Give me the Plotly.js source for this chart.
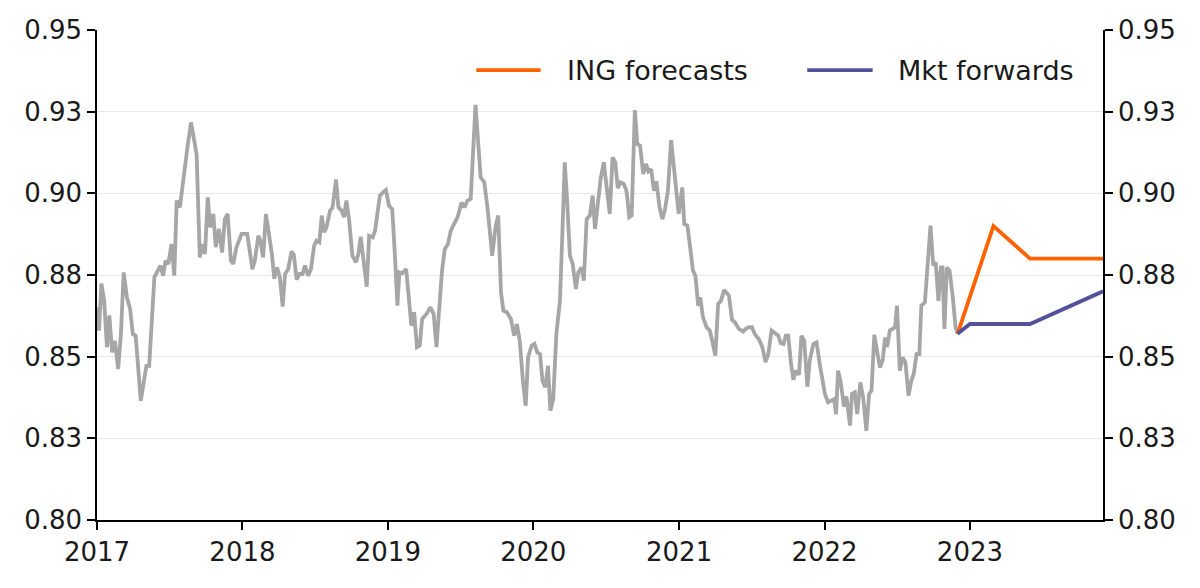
<!DOCTYPE html>
<html>
<head>
<meta charset="utf-8">
<script src="https://cdn.plot.ly/plotly-3.0.1.min.js"></script>
<style>
  html, body { margin: 0; padding: 0; background: #fff; }
  #chart { width: 1200px; height: 588px; }
</style>
</head>
<body>
<div id="chart"></div>
<script>
// EUR/GBP history (weekly-ish)
var histDates = [
    '2017-01-02','2017-01-06','2017-01-12','2017-01-19','2017-01-26','2017-02-01','2017-02-08','2017-02-15',
    '2017-02-23','2017-03-02','2017-03-09','2017-03-17','2017-03-25','2017-04-01','2017-04-08','2017-04-21',
    '2017-05-05','2017-05-12','2017-05-25','2017-06-09','2017-06-16','2017-06-22','2017-06-29','2017-07-07',
    '2017-07-14','2017-07-20','2017-07-28','2017-08-05','2017-08-16','2017-08-25','2017-09-08','2017-09-16',
    '2017-09-22','2017-09-29','2017-10-06','2017-10-12','2017-10-20','2017-10-26','2017-11-03','2017-11-11',
    '2017-11-18','2017-11-25','2017-12-03','2017-12-09','2017-12-17','2017-12-30',
    '2018-01-07','2018-01-13','2018-01-18','2018-01-26','2018-02-01','2018-02-10','2018-02-15','2018-02-22',
    '2018-03-01','2018-03-09','2018-03-16','2018-03-22','2018-03-29','2018-04-05','2018-04-12','2018-04-18',
    '2018-04-26','2018-05-04','2018-05-10','2018-05-17','2018-05-24','2018-06-01','2018-06-07','2018-06-15',
    '2018-06-22','2018-06-30','2018-07-06','2018-07-13','2018-07-19','2018-07-25','2018-07-31','2018-08-09',
    '2018-08-15','2018-08-24','2018-08-30','2018-09-07','2018-09-13','2018-09-19','2018-09-26','2018-10-04',
    '2018-10-13','2018-10-19','2018-10-25','2018-10-31','2018-11-09','2018-11-15','2018-11-24','2018-11-30',
    '2018-12-05','2018-12-12','2018-12-20','2018-12-27',
    '2019-01-04','2019-01-12','2019-01-19','2019-01-25','2019-01-30','2019-02-06','2019-02-16','2019-02-23',
    '2019-03-01','2019-03-08','2019-03-15','2019-03-22','2019-03-28','2019-04-08','2019-04-18','2019-04-26',
    '2019-05-03','2019-05-09','2019-05-17','2019-05-24','2019-06-01','2019-06-08','2019-06-18','2019-06-25',
    '2019-07-05','2019-07-12','2019-07-20','2019-07-28','2019-08-09','2019-08-22','2019-08-31','2019-09-08',
    '2019-09-20','2019-09-28','2019-10-05','2019-10-12','2019-10-18','2019-10-27','2019-11-06','2019-11-14',
    '2019-11-21','2019-11-28','2019-12-06','2019-12-13','2019-12-19','2019-12-28',
    '2020-01-04','2020-01-11','2020-01-18','2020-01-24','2020-01-31','2020-02-07','2020-02-13','2020-02-20',
    '2020-02-28','2020-03-08','2020-03-14','2020-03-20','2020-03-26','2020-04-02','2020-04-09','2020-04-17',
    '2020-04-23','2020-05-01','2020-05-07','2020-05-14','2020-05-22','2020-05-29','2020-06-04','2020-06-12',
    '2020-06-18','2020-06-26','2020-07-05','2020-07-11','2020-07-18','2020-07-25','2020-07-31','2020-08-07',
    '2020-08-15','2020-08-22','2020-08-29','2020-09-04','2020-09-12','2020-09-18','2020-09-25','2020-10-03',
    '2020-10-10','2020-10-16','2020-10-23','2020-10-30','2020-11-05','2020-11-13','2020-11-20','2020-11-26',
    '2020-12-04','2020-12-12','2020-12-19','2020-12-31',
    '2021-01-09','2021-01-14','2021-01-22','2021-01-28','2021-02-05','2021-02-11','2021-02-18','2021-02-23',
    '2021-03-02','2021-03-11','2021-03-19','2021-03-25','2021-04-02','2021-04-09','2021-04-16','2021-04-24',
    '2021-05-06','2021-05-14','2021-05-21','2021-05-31','2021-06-11','2021-06-17','2021-06-25','2021-07-03',
    '2021-07-10','2021-07-20','2021-07-29','2021-08-06','2021-08-13','2021-08-21','2021-08-29','2021-09-07',
    '2021-09-13','2021-09-20','2021-09-26','2021-10-02','2021-10-09','2021-10-15','2021-10-20','2021-10-29',
    '2021-11-04','2021-11-11','2021-11-19','2021-11-25','2021-12-04','2021-12-12','2021-12-20',
    '2022-01-02','2022-01-10','2022-01-19','2022-01-25','2022-01-30','2022-02-04','2022-02-10','2022-02-19',
    '2022-02-25','2022-03-06','2022-03-11','2022-03-18','2022-03-24','2022-04-01','2022-04-08','2022-04-16',
    '2022-04-23','2022-04-29','2022-05-06','2022-05-13','2022-05-20','2022-05-27','2022-06-02','2022-06-07',
    '2022-06-14','2022-06-21','2022-06-27','2022-07-02','2022-07-09','2022-07-16','2022-07-23','2022-07-31',
    '2022-08-07','2022-08-13','2022-08-20','2022-08-27','2022-09-01','2022-09-10','2022-09-16','2022-09-24',
    '2022-10-01','2022-10-07','2022-10-14','2022-10-20','2022-10-24','2022-10-29','2022-11-04','2022-11-11',
    '2022-11-19','2022-11-26','2022-12-01'
];

var histValues = [
    0.8651,0.8580,0.8724,0.8671,0.8529,0.8626,0.8513,0.8549,
    0.8462,0.8569,0.8758,0.8682,0.8646,0.8569,0.8564,0.8365,
    0.8472,0.8472,0.8743,0.8779,0.8748,0.8794,0.8784,0.8845,
    0.8748,0.8978,0.8957,0.9039,0.9141,0.9217,0.9120,0.8804,
    0.8845,0.8814,0.8988,0.8896,0.8937,0.8835,0.8891,0.8819,
    0.8921,0.8937,0.8794,0.8784,0.8835,0.8876,
    0.8876,0.8876,0.8835,0.8768,0.8794,0.8870,0.8855,0.8804,
    0.8937,0.8865,0.8814,0.8738,0.8773,0.8743,0.8653,0.8753,
    0.8768,0.8822,0.8812,0.8736,0.8753,0.8753,0.8779,0.8748,
    0.8768,0.8840,0.8855,0.8850,0.8932,0.8881,0.8896,0.8947,
    0.8955,0.9042,0.8957,0.8947,0.8927,0.8978,0.8916,0.8809,
    0.8789,0.8814,0.8867,0.8804,0.8714,0.8870,0.8865,0.8886,
    0.8937,0.8993,0.9003,0.9010,
    0.8962,0.8952,0.8804,0.8656,0.8758,0.8755,0.8768,0.8682,
    0.8595,0.8636,0.8529,0.8534,0.8615,0.8631,0.8651,0.8631,
    0.8529,0.8631,0.8763,0.8830,0.8845,0.8886,0.8911,0.8927,
    0.8972,0.8957,0.8978,0.8983,0.9271,0.9049,0.9034,0.8957,
    0.8809,0.8896,0.8932,0.8697,0.8641,0.8636,0.8615,0.8564,
    0.8600,0.8549,0.8427,0.8350,0.8498,0.8534,
    0.8539,0.8513,0.8508,0.8427,0.8406,0.8472,0.8335,0.8370,
    0.8569,0.8671,0.8876,0.9095,0.8978,0.8809,0.8784,0.8707,
    0.8758,0.8773,0.8733,0.8921,0.8932,0.8993,0.8891,0.8978,
    0.9044,0.9095,0.9008,0.8937,0.9110,0.9095,0.9016,0.9034,
    0.9029,0.9008,0.8927,0.8932,0.9255,0.9151,0.9146,0.9059,
    0.9090,0.9067,0.9074,0.9008,0.9037,0.8957,0.8921,0.8947,
    0.9008,0.9163,0.9080,0.8937,
    0.9018,0.8906,0.8901,0.8845,0.8763,0.8748,0.8656,0.8682,
    0.8620,0.8590,0.8580,0.8549,0.8503,0.8661,0.8671,0.8704,
    0.8687,0.8612,0.8605,0.8585,0.8577,0.8585,0.8590,0.8590,
    0.8569,0.8554,0.8529,0.8483,0.8508,0.8580,0.8574,0.8564,
    0.8541,0.8539,0.8564,0.8564,0.8478,0.8429,0.8457,0.8445,
    0.8564,0.8549,0.8408,0.8488,0.8539,0.8544,0.8478,
    0.8386,0.8360,0.8365,0.8370,0.8324,0.8457,0.8427,0.8347,
    0.8378,0.8289,0.8386,0.8391,0.8324,0.8421,0.8376,0.8273,
    0.8386,0.8396,0.8567,0.8518,0.8467,0.8488,0.8559,0.8529,
    0.8580,0.8585,0.8590,0.8656,0.8457,0.8498,0.8483,0.8381,
    0.8427,0.8447,0.8508,0.8508,0.8656,0.8666,0.8773,0.8901,
    0.8779,0.8789,0.8671,0.8773,0.8773,0.8585,0.8773,0.8763,
    0.8682,0.8590,0.8570
];

// ING quarterly forecasts
var ingDates = ['2022-12-01', '2023-03-01', '2023-06-01', '2023-09-01', '2023-12-01'];
var ingValues = [0.857, 0.890, 0.880, 0.880, 0.880];

// Market forwards
var fwdDates = ['2022-12-01', '2023-01-01', '2023-06-01', '2023-12-01'];
var fwdValues = [0.857, 0.860, 0.860, 0.870];

var yTickVals = [0.80, 0.825, 0.85, 0.875, 0.90, 0.925, 0.95];
var yTickText = ['0.80', '0.83', '0.85', '0.88', '0.90', '0.93', '0.95'];

var FONT = 'DejaVu Sans, Verdana, sans-serif';
var INK = '#1a1a1a';

var spotTrace =
{
    type: 'scatter',
    mode: 'lines',
    name: 'EUR/GBP',
    x: histDates,
    y: histValues,
    line: { color: '#a6a6a6', width: 3.8 },
    hoverinfo: 'x+y',
    showlegend: false
};

var ingTrace =
{
    type: 'scatter',
    mode: 'lines',
    name: 'ING forecasts',
    x: ingDates,
    y: ingValues,
    line: { color: '#ff6200', width: 3.8 },
    hoverinfo: 'x+y',
    showlegend: false
};

var fwdTrace =
{
    type: 'scatter',
    mode: 'lines',
    name: 'Mkt forwards',
    x: fwdDates,
    y: fwdValues,
    yaxis: 'y2',
    line: { color: '#525199', width: 3.8 },
    hoverinfo: 'x+y',
    showlegend: false
};

function yAxis(side)
{
    return {
        range: [0.80, 0.95],
        tickmode: 'array',
        tickvals: yTickVals,
        ticktext: yTickText,
        ticks: 'outside',
        ticklen: 8,
        tickwidth: 1.5,
        tickcolor: '#000',
        showline: true,
        linecolor: '#000',
        linewidth: 1.5,
        zeroline: false,
        showgrid: side === 'left',
        gridcolor: '#e8e8e8',
        gridwidth: 1.2,
        side: side,
        tickfont: { family: FONT, size: 26, color: INK },
        fixedrange: true
    };
}

var y2 = yAxis('right');
y2.overlaying = 'y';

// legend drawn by hand so the line samples keep the long dashes of the original
var legendItems =
[
    { label: 'ING forecasts', color: '#ff6200', x0: 0.377, x1: 0.441, tx: 0.465 },
    { label: 'Mkt forwards', color: '#525199', x0: 0.706, x1: 0.771, tx: 0.794 }
];

var layout =
{
    width: 1200,
    height: 588,
    margin: { l: 97, r: 97, t: 30, b: 68, pad: 0 },
    paper_bgcolor: '#fff',
    plot_bgcolor: '#fff',
    font: { family: FONT, color: INK },
    showlegend: false,
    hovermode: 'closest',
    xaxis:
    {
        type: 'date',
        range: ['2017-01-01', '2023-12-01'],
        tick0: '2017-01-01',
        dtick: 'M12',
        tickformat: '%Y',
        ticks: 'outside',
        ticklen: 8,
        tickwidth: 1.5,
        tickcolor: '#000',
        showline: true,
        linecolor: '#000',
        linewidth: 1.5,
        showgrid: false,
        zeroline: false,
        tickfont: { family: FONT, size: 26, color: INK },
        fixedrange: true
    },
    yaxis: yAxis('left'),
    yaxis2: y2,
    shapes: legendItems.map(function(d) {
        return {
            type: 'line', xref: 'paper', yref: 'paper',
            x0: d.x0, x1: d.x1, y0: 0.918, y1: 0.918,
            line: { color: d.color, width: 3.8 }
        };
    }),
    annotations: legendItems.map(function(d) {
        return {
            text: d.label, xref: 'paper', yref: 'paper',
            x: d.tx, y: 0.918, xanchor: 'left', yanchor: 'middle',
            showarrow: false,
            font: { family: FONT, size: 27, color: INK }
        };
    })
};

Plotly.newPlot('chart', [spotTrace, ingTrace, fwdTrace], layout, { displayModeBar: false });
</script>
</body>
</html>
